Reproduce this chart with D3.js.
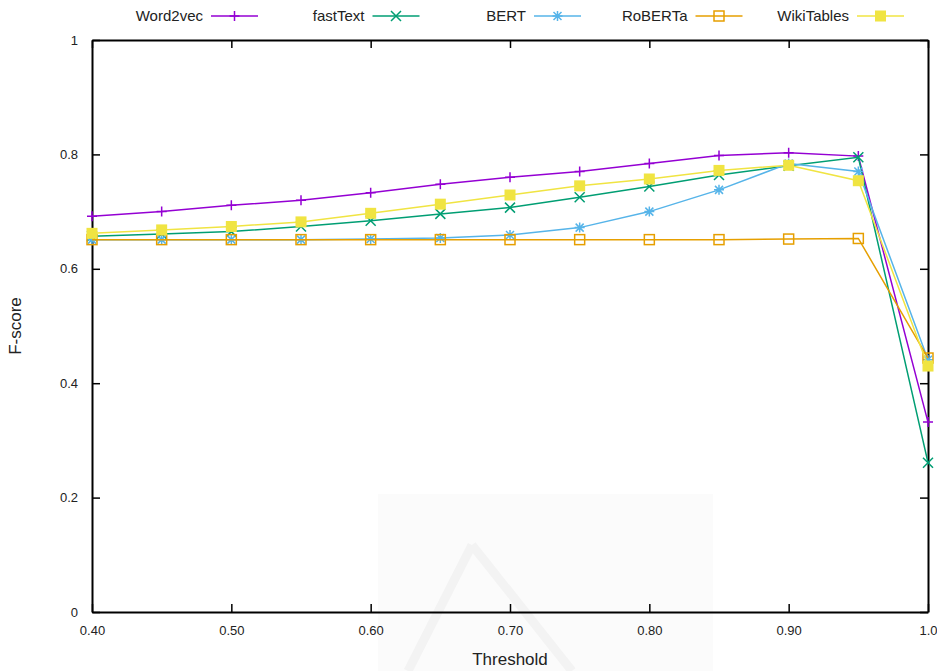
<!DOCTYPE html>
<meta charset="utf-8">
<style>
  body { margin: 0; background: #fff; }
  svg text { font-family: "Liberation Sans", Arial, sans-serif; fill: #222; }
</style>
<body>
<div id="chart"></div>
<script src="https://d3js.org/d3.v7.min.js"></script>
<script>

// thresholds on x axis
var thresholds = [0.40, 0.45, 0.50, 0.55, 0.60, 0.65, 0.70, 0.75, 0.80, 0.85, 0.90, 0.95, 1.0];

// F-score for each model
var word2vec   = [0.692, 0.700, 0.711, 0.720, 0.733, 0.748, 0.760, 0.770, 0.784, 0.798, 0.803, 0.797, 0.332];
var fastText   = [0.657, 0.661, 0.665, 0.674, 0.684, 0.696, 0.707, 0.725, 0.744, 0.764, 0.780, 0.795, 0.261];
var bert       = [0.651, 0.651, 0.651, 0.651, 0.652, 0.654, 0.659, 0.672, 0.700, 0.738, 0.784, 0.770, 0.441];
var roberta    = [0.651, 0.651, 0.651, 0.651, 0.651, 0.651, 0.651, 0.651, 0.651, 0.651, 0.652, 0.653, 0.444];
var wikiTables = [0.662, 0.668, 0.674, 0.682, 0.697, 0.713, 0.729, 0.745, 0.757, 0.772, 0.781, 0.754, 0.430];

var seriesNames = ["Word2vec", "fastText", "BERT", "RoBERTa", "WikiTables"];
var xTickLabels = ["0.40", "0.50", "0.60", "0.70", "0.80", "0.90", "1.0"];
var yTickLabels = ["0", "0.2", "0.4", "0.6", "0.8", "1"];

var series = [
  { name: seriesNames[0], values: word2vec,   color: "#9400d3", mark: "plus" },
  { name: seriesNames[1], values: fastText,   color: "#009e73", mark: "cross" },
  { name: seriesNames[2], values: bert,       color: "#56b4e9", mark: "star" },
  { name: seriesNames[3], values: roberta,    color: "#e69f00", mark: "box" },
  { name: seriesNames[4], values: wikiTables, color: "#f0e442", mark: "fbox" }
];

var width = 937, height = 671;
var margin = { top: 40, right: 9, bottom: 59, left: 92 };

var svg = d3.select("#chart").append("svg")
    .attr("width", width)
    .attr("height", height);

// faint watermark from the scanned page
svg.append("rect")
    .attr("x", 378).attr("y", 494).attr("width", 335).attr("height", 177)
    .attr("fill", "#fbfbfb");
svg.append("path")
    .attr("d", "M472,545 L408,671 M472,545 L572,671")
    .attr("stroke", "#f3f3f3").attr("stroke-width", 9).attr("fill", "none");

var x = d3.scaleLinear().domain([0.4, 1.0]).range([margin.left, width - margin.right]);
var y = d3.scaleLinear().domain([0, 1]).range([height - margin.bottom, margin.top]);

var xTicks = xTickLabels.map(Number);
var yTicks = yTickLabels.map(Number);
var tick = 8;

// axes (gnuplot style: inward ticks, mirrored)
var bottom = svg.append("g").attr("transform", "translate(0," + y(0) + ")")
    .call(d3.axisBottom(x).tickValues(xTicks).tickSizeInner(-tick).tickSizeOuter(0)
      .tickPadding(14).tickFormat(function(d, i) { return xTickLabels[i]; }));
var top_ = svg.append("g").attr("transform", "translate(0," + y(1) + ")")
    .call(d3.axisTop(x).tickValues(xTicks).tickSizeInner(-tick).tickSizeOuter(0).tickFormat(""));
var left = svg.append("g").attr("transform", "translate(" + x(0.4) + ",0)")
    .call(d3.axisLeft(y).tickValues(yTicks).tickSizeInner(-tick).tickSizeOuter(0)
      .tickPadding(14).tickFormat(function(d, i) { return yTickLabels[i]; }));
var right = svg.append("g").attr("transform", "translate(" + x(1.0) + ",0)")
    .call(d3.axisRight(y).tickValues(yTicks).tickSizeInner(-tick).tickSizeOuter(0).tickFormat(""));

[bottom, top_, left, right].forEach(function(g) {
  g.select(".domain").attr("stroke", "#000").attr("stroke-width", 2);
  g.selectAll(".tick line").attr("stroke", "#000").attr("stroke-width", 1.5);
  g.selectAll(".tick text").attr("font-size", 13).attr("fill", "#333")
    .attr("font-family", "Liberation Sans, Arial, sans-serif");
});

// axis titles
svg.append("text")
    .attr("x", (x(0.4) + x(1.0)) / 2).attr("y", 665)
    .attr("text-anchor", "middle").attr("font-size", 17)
    .text("Threshold");
svg.append("text")
    .attr("transform", "translate(21," + y(0.5) + ") rotate(-90)")
    .attr("text-anchor", "middle").attr("font-size", 17)
    .text("F-score");

// markers
function drawMark(g, kind, color) {
  var s = 5;
  if (kind === "plus") {
    g.append("path").attr("d", "M" + -s + ",0H" + s + "M0," + -s + "V" + s)
      .attr("stroke", color).attr("stroke-width", 1.5);
  } else if (kind === "cross") {
    g.append("path").attr("d", "M-5,-5L5,5M-5,5L5,-5")
      .attr("stroke", color).attr("stroke-width", 1.5);
  } else if (kind === "star") {
    g.append("path").attr("d", "M-5,0H5M0,-5V5M-4,-4L4,4M-4,4L4,-4")
      .attr("stroke", color).attr("stroke-width", 1.5);
  } else if (kind === "box") {
    g.append("rect").attr("x", -5).attr("y", -5).attr("width", 10).attr("height", 10)
      .attr("fill", "none").attr("stroke", color).attr("stroke-width", 1.5);
  } else if (kind === "fbox") {
    g.append("rect").attr("x", -5.5).attr("y", -5.5).attr("width", 11).attr("height", 11)
      .attr("fill", color);
  }
}

var line = d3.line()
    .x(function(d, i) { return x(thresholds[i]); })
    .y(function(d) { return y(d); });

series.forEach(function(s) {
  var g = svg.append("g");
  g.append("path")
      .datum(s.values)
      .attr("d", line)
      .attr("fill", "none")
      .attr("stroke", s.color)
      .attr("stroke-width", 1.5);
  g.selectAll("g.pt")
      .data(s.values)
    .enter().append("g")
      .attr("class", "pt")
      .attr("transform", function(d, i) { return "translate(" + x(thresholds[i]) + "," + y(d) + ")"; })
      .each(function() { drawMark(d3.select(this), s.mark, s.color); });
});

// legend across the top
var legend = svg.append("g")
    .selectAll("g")
    .data(series)
    .enter().append("g")
      .attr("transform", function(d, i) { return "translate(" + (203 + i * 161.5) + ",16)"; });

legend.append("text")
    .attr("x", 0).attr("dy", "0.35em")
    .attr("text-anchor", "end").attr("font-size", 15)
    .text(function(d) { return d.name; });
legend.append("line")
    .attr("x1", 8).attr("x2", 55)
    .attr("stroke", function(d) { return d.color; })
    .attr("stroke-width", 1.5);
legend.append("g")
    .attr("transform", "translate(31.5,0)")
    .each(function(d) { drawMark(d3.select(this), d.mark, d.color); });

</script>
</body>
